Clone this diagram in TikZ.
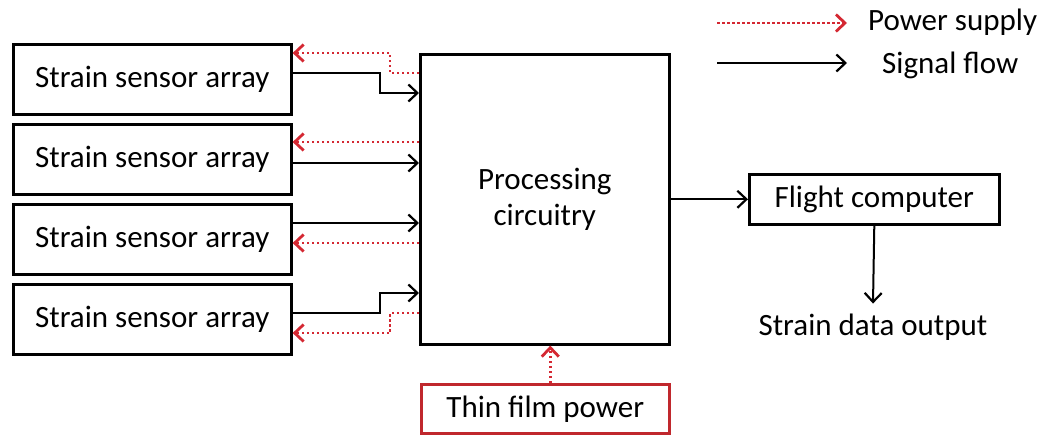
\documentclass[tikz,border=0pt]{standalone}
\usepackage{fontspec}
\setmainfont{Carlito}
\usetikzlibrary{arrows.meta}
\definecolor{pred}{RGB}{212,40,50}
\definecolor{bred}{RGB}{192,40,45}
\begin{document}
\begin{tikzpicture}[x=1pt,y=-1pt,
  lbl/.style={font=\fontsize{31}{36}\selectfont},
  box/.style={draw,line width=2.6pt,inner sep=0pt,lbl,anchor=north west,align=center},
  sig/.style={line width=2pt,-{Straight Barb[length=9pt,width=17pt,line width=2.2pt]}},
  pow/.style={pred,line width=2.8pt,dash pattern=on 2.5pt off 2.5pt,
    -{Straight Barb[length=9pt,width=17pt,line width=2.8pt,sep=0pt]}}]
\useasboundingbox (0,0) rectangle (1044,434);

\node[box,minimum width=278pt,minimum height=70pt] (s1) at (12,43) {Strain sensor array};
\node[box,minimum width=278pt,minimum height=70pt] (s2) at (12,123) {Strain sensor array};
\node[box,minimum width=278pt,minimum height=70pt] (s3) at (12,203) {Strain sensor array};
\node[box,minimum width=278pt,minimum height=70pt] (s4) at (12,283) {Strain sensor array};
\node[box,minimum width=249pt,minimum height=290pt] (proc) at (419,53) {Processing\\circuitry};
\node[box,minimum width=250pt,minimum height=50pt] (fc) at (748,173) {Flight computer};
\node[box,draw=bred,minimum width=248pt,minimum height=49pt] (tf) at (420,383) {Thin film power};
\node[lbl,inner sep=0pt] (out) at (873,327) {Strain data output};

% sensor 1
\draw[sig] (s1.east |- 0,73) -| (380,93) -- (proc.west |- 0,93);
\draw[pow] (proc.west |- 0,73) -| (390,53) -- (s1.east |- 0,53);
% sensor 2
\draw[pow] (proc.west |- 0,142) -- (s2.east |- 0,142);
\draw[sig] (s2.east |- 0,163) -- (proc.west |- 0,163);
% sensor 3
\draw[sig] (s3.east |- 0,223) -- (proc.west |- 0,223);
\draw[pow] (proc.west |- 0,243) -- (s3.east |- 0,243);
% sensor 4
\draw[sig] (s4.east |- 0,313) -| (380,293) -- (proc.west |- 0,293);
\draw[pow] (proc.west |- 0,313) -| (390,333) -- (s4.east |- 0,333);

\draw[sig] (proc.east |- fc.west) -- (fc.west);
\draw[sig] (fc.south) -- ([yshift=10pt]out.north);
\draw[pow] ([xshift=5pt]tf.north) -- ([xshift=5pt]tf.north |- proc.south);

% legend
\coordinate (lp1) at (717,23);
\coordinate (lp2) at (847,23);
\coordinate (ls1) at (717,63);
\coordinate (ls2) at (847,63);
\draw[pow] (lp1) -- (lp2);
\draw[sig] (ls1) -- (ls2);
\node[lbl,anchor=west,inner sep=0pt] (lpt) at (868,22) {Power supply};
\node[lbl,anchor=west,inner sep=0pt] (lst) at (882,65) {Signal flow};
\end{tikzpicture}
\end{document}
